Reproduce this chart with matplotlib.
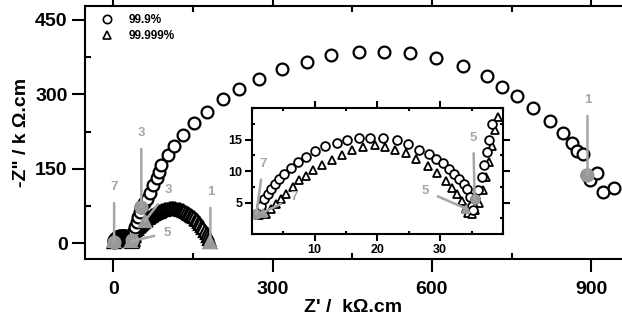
import matplotlib
matplotlib.use('Agg')
import matplotlib.pyplot as plt
from matplotlib.lines import Line2D
from matplotlib.ticker import MultipleLocator

plt.rcParams['font.family'] = ['Liberation Sans', 'DejaVu Sans']
plt.rcParams['font.weight'] = 'bold'

# 99.9 % sample (circles): high-frequency arc, rise, then the large arc
circ_x = [0.7, 1.5, 2.0, 2.6, 3.1, 3.7, 4.3, 5.1, 6.2, 7.3, 8.6, 10.0, 11.7, 13.5, 15.2,
          17.0, 18.8, 20.9, 23.1, 24.8, 26.7, 28.3, 29.4, 30.4, 31.4, 32.2, 33.0, 33.8,
          34.3, 34.7, 35.0, 35.3, 35.5, 36.1, 36.6, 37.0, 37.4, 37.8, 38.2,
          39.5, 41, 44, 47, 50, 53, 58, 64, 70, 75, 83, 86, 90, 104, 115, 132, 153, 177,
          207, 237, 275, 318, 365, 410, 463, 510, 559, 608, 659, 704, 733, 761, 791, 823,
          846, 864, 874, 885, 893, 898, 910, 923, 942]
circ_y = [3.2, 4.5, 5.6, 6.4, 7.2, 8.0, 8.8, 9.6, 10.5, 11.5, 12.3, 13.1, 13.9, 14.5, 15.0,
          15.2, 15.3, 15.3, 15.0, 14.3, 13.3, 12.7, 11.9, 11.2, 10.3, 9.5, 8.7, 8.0,
          7.2, 5.8, 4.5, 3.8, 5.6, 7.0, 9.0, 11.0, 13.0, 15.0, 17.5,
          24, 32, 42, 52, 62, 73, 80, 88, 101, 117, 131, 144, 157, 178, 196, 218, 242, 264,
          291, 311, 331, 351, 365, 380, 386, 386, 384, 374, 357, 337, 315, 297, 273, 246,
          222, 202, 186, 180, 137, 127, 141, 103, 111]

# 99.999 % sample (triangles)
tri_x = [1.2, 1.8, 2.3, 3.1, 3.9, 4.7, 5.4, 6.5, 7.5, 8.6, 9.8, 11.2, 12.8, 14.4, 16.0,
         17.7, 19.6, 21.2, 22.8, 24.6, 26.2, 28.0, 29.5, 30.9, 31.9, 32.7, 33.5, 34.1,
         34.2, 34.5, 35.0, 35.5, 36.2, 36.8, 37.3, 37.8, 38.3, 38.8, 39.3,
         40, 42, 44, 46, 48, 50, 52, 54, 56, 58, 60, 62, 65, 68, 71, 74, 77, 80, 83, 86,
         89, 92, 95, 98, 101, 104, 107, 110, 113, 116, 119, 122, 125, 128, 131, 134, 137,
         140, 143, 146, 149, 152, 155, 158, 161, 164, 167, 170, 173, 176, 179, 181, 183]
tri_y = [3.0, 3.4, 3.2, 4.0, 4.8, 5.6, 6.4, 7.4, 8.5, 9.2, 10.1, 10.9, 11.7, 12.5, 13.3,
         13.8, 14.1, 13.8, 13.3, 12.8, 11.9, 10.8, 9.7, 8.4, 7.3, 6.3, 5.2, 4.2,
         4.0, 3.3, 3.2, 3.8, 5.0, 7.0, 9.0, 11.5, 14.0, 16.5, 18.5,
         22, 26, 29, 32, 35, 37, 39, 41, 43, 44, 45, 47, 50, 52, 54, 56, 58, 60, 62, 63,
         64, 66, 67, 68, 69, 69, 70, 70, 70, 70, 69, 69, 68, 67, 66, 65, 63,
         61, 59, 57, 55, 52, 49, 46, 42, 38, 34, 30, 25, 20, 14, 9, 2]

# decade points (log f) marked in grey
circ_dec = ['7', '5', '3', '1']
circ_dec_x = [0.7, 35.5, 53, 893]
circ_dec_y = [3.2, 5.6, 73, 137]
tri_dec = ['7', '5', '3', '1']
tri_dec_x = [1.8, 34.2, 60, 183]
tri_dec_y = [3.4, 4.0, 45, 2]

GREY = '#a6a6a6'
MGREY = '#999999'

fig = plt.figure(figsize=(6.22, 3.26), dpi=100)
ax = fig.add_axes([0.1367, 0.2055, 0.8633, 0.7761])
ins = fig.add_axes([0.405, 0.2822, 0.4035, 0.3865])


def draw(a, ms, mew):
    a.plot(tri_x, tri_y, ls='none', marker='^', ms=ms, mfc='white', mec='black', mew=mew)
    a.plot(circ_x, circ_y, ls='none', marker='o', ms=ms, mfc='white', mec='black', mew=mew)
    a.plot(tri_dec_x, tri_dec_y, ls='none', marker='^', ms=ms, mfc=MGREY, mec=MGREY, mew=mew)
    a.plot(circ_dec_x, circ_dec_y, ls='none', marker='o', ms=ms, mfc=MGREY, mec=MGREY, mew=mew)


def label(a, txt, x, y, dx, dy, fs):
    a.annotate(txt, (x, y), xytext=(dx, dy), textcoords='offset points',
               ha='center', va='center', color=GREY, fontsize=fs, fontweight='bold',
               arrowprops=dict(arrowstyle='-', color=GREY, lw=1.8, shrinkA=5, shrinkB=0),
               annotation_clip=False)


draw(ax, 8.5, 1.6)
ax.set_xlim(-53, 958)
ax.set_ylim(-32, 478)
for s in ['left', 'bottom', 'top']:
    ax.spines[s].set_linewidth(1.5)
ax.spines['right'].set_visible(False)
ax.xaxis.set_major_locator(MultipleLocator(300))
ax.xaxis.set_minor_locator(MultipleLocator(150))
ax.yaxis.set_major_locator(MultipleLocator(150))
ax.yaxis.set_minor_locator(MultipleLocator(75))
ax.tick_params(which='major', direction='out', length=9.5, width=1.5, labelsize=14, pad=3)
ax.tick_params(axis='x', which='major', pad=6)
ax.tick_params(which='minor', direction='in', length=4, width=1.5)
ax.tick_params(axis='x', which='both', top=True)
ax.set_xlabel("Z' /  k\u03a9.cm", fontsize=14, fontweight='bold', labelpad=1)
ax.set_ylabel('-Z" / k \u03a9.cm', fontsize=14, fontweight='bold', labelpad=4)
for t in ax.get_xticklabels() + ax.get_yticklabels():
    t.set_fontweight('bold')

handles = [Line2D([], [], ls='none', marker='o', ms=6, mfc='white', mec='black', mew=1.2),
           Line2D([], [], ls='none', marker='^', ms=6, mfc='white', mec='black', mew=1.2)]
leg = ax.legend(handles, ['99.9%', '99.999%'], loc='upper left', frameon=False,
                prop={'size': 8.5, 'weight': 'bold'}, handlelength=1.0, handletextpad=1.3,
                labelspacing=0.3, borderaxespad=0.3, bbox_to_anchor=(0.015, 1.0))

# main-plot decade labels
label(ax, tri_dec[0], tri_dec_x[0], tri_dec_y[0], 0, 39, 9.5)
label(ax, tri_dec[1], tri_dec_x[1], tri_dec_y[1], 26, 6, 9.5)
label(ax, circ_dec[2], circ_dec_x[2], circ_dec_y[2], 0, 53, 9.5)
label(ax, tri_dec[2], tri_dec_x[2], tri_dec_y[2], 17, 22, 9.5)
label(ax, tri_dec[3], tri_dec_x[3], tri_dec_y[3], 0, 36, 9.5)
label(ax, circ_dec[3], circ_dec_x[3], circ_dec_y[3], 0, 54, 9.5)

# inset
draw(ins, 6.3, 1.3)
ins.set_xlim(0, 40)
ins.set_ylim(0, 20)
for s in ins.spines.values():
    s.set_linewidth(1.5)
ins.xaxis.set_major_locator(MultipleLocator(10))
ins.xaxis.set_minor_locator(MultipleLocator(5))
ins.yaxis.set_major_locator(MultipleLocator(5))
ins.yaxis.set_minor_locator(MultipleLocator(2.5))
ins.set_xticks([10, 20, 30])
ins.set_yticks([5, 10, 15])
ins.tick_params(which='major', direction='out', length=5, width=1.5, labelsize=9, pad=2)
ins.tick_params(which='minor', direction='in', length=2.5, width=1.5)
ins.tick_params(which='both', top=True, right=True)
for t in ins.get_xticklabels() + ins.get_yticklabels():
    t.set_fontweight('bold')

label(ins, circ_dec[0], circ_dec_x[0], circ_dec_y[0], 5, 36, 9.5)
label(ins, tri_dec[0], tri_dec_x[0], tri_dec_y[0], 22, 11, 9.5)
label(ins, circ_dec[1], circ_dec_x[1], circ_dec_y[1], -1, 44, 9.5)
label(ins, tri_dec[1], tri_dec_x[1], tri_dec_y[1], -30, 13, 9.5)

fig.savefig('out.png', dpi=100)
